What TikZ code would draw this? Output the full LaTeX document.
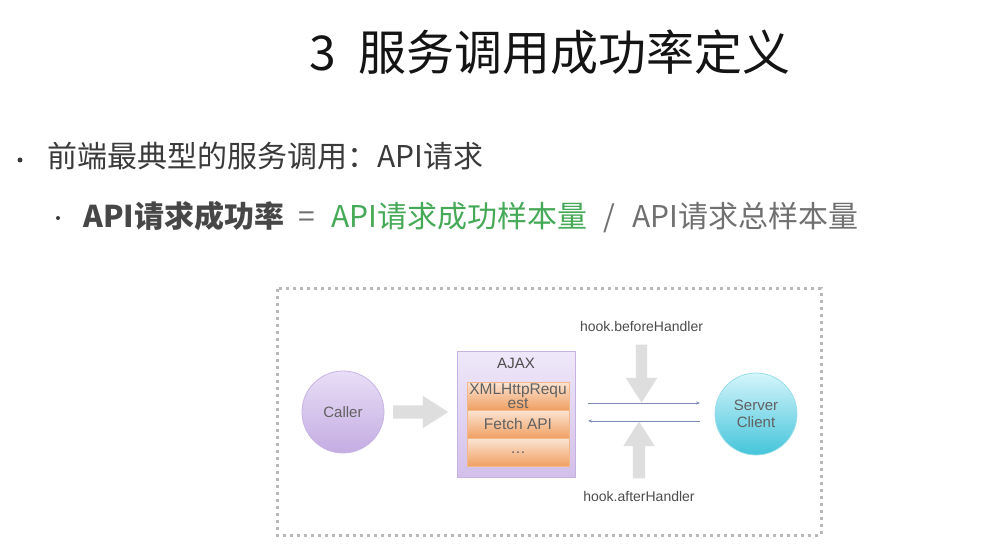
\documentclass[tikz,border=0pt]{standalone}
\usepackage{fontspec}
\setmainfont{Liberation Sans}
\newfontfamily\cjk{Noto Sans CJK SC}
\usepackage{xcolor}
\usepackage{tikz}
\usetikzlibrary{positioning,arrows.meta,shapes.arrows}
\definecolor{headcolor}{HTML}{141414}
\definecolor{bodycolor}{HTML}{3A3A3A}
\definecolor{okgreen}{HTML}{45A958}
\definecolor{softgray}{HTML}{707070}
\definecolor{linkcolor}{HTML}{7D8CB2}
\definecolor{blockgray}{HTML}{DEDEDE}
\definecolor{callertop}{HTML}{E8DEF6}
\definecolor{callerbot}{HTML}{C4ACE2}
\definecolor{callerline}{HTML}{C8B4E4}
\definecolor{boxtop}{HTML}{EFE8F9}
\definecolor{boxbot}{HTML}{D3BFEA}
\definecolor{boxline}{HTML}{C6B2E0}
\definecolor{layertop}{HTML}{FBE3D2}
\definecolor{layerbot}{HTML}{F0A062}
\definecolor{layerline}{HTML}{F2B888}
\definecolor{servertop}{HTML}{D4F5FB}
\definecolor{serverbot}{HTML}{44C4DA}
\definecolor{serverline}{HTML}{9ADDEA}
\tikzset{
  heading/.style={font=\cjk\fontsize{48}{57}\selectfont, text=headcolor, inner sep=0pt},
  itemtext/.style={font=\cjk\fontsize{30}{35}\selectfont, text=bodycolor, inner sep=0pt, anchor=base west},
  bdot/.style={circle, fill=bodycolor, inner sep=0pt, minimum size=5pt},
  outerframe/.style={draw=black!28, line width=3pt, dash pattern=on 3pt off 4pt},
  role/.style={circle, minimum size=82pt, inner sep=0pt, draw=#1, line width=0.8pt, font=\fontsize{15}{17}\selectfont, text=black!62, align=center},
  box/.style={draw=boxline, line width=0.8pt, top color=boxtop, bottom color=boxbot, minimum width=118pt, minimum height=126pt},
  layer/.style={draw=layerline, line width=0.5pt, top color=layertop, bottom color=layerbot, minimum width=102pt, minimum height=27.7pt, inner sep=1pt, font=\fontsize{15.5}{12}\selectfont, text=black!62, align=center},
  lbl/.style={font=\fontsize{14}{16}\selectfont, text=black!70, inner sep=0pt},
  blockarrow/.style={single arrow, fill=blockgray, draw=none, single arrow tip angle=65},
  link/.style={-{Stealth[length=4pt,width=3pt]}, line width=0.9pt, draw=linkcolor},
}
\begin{document}
\begin{tikzpicture}[x=1pt, y=-1pt, node distance=15pt]
\useasboundingbox[fill=white] (0,0) rectangle (1004,553);
\node[heading] (title) at (550,52) {3\hspace{22pt}服务调用成功率定义};
\node[bdot] (dot1) at (20,160) {};
\node[itemtext] (line1) at (47,168) {前端最典型的服务调用：API请求};
\node[bdot, minimum size=4pt] (dot2) at (58,218) {};
\node[itemtext, font=\cjk\bfseries\fontsize{30}{35}\selectfont, text=black!72] (rate) at (83,228) {API请求成功率};
\node[itemtext, text=softgray, right=14pt of rate.base east, anchor=base west] (eq) {=};
\node[itemtext, text=okgreen, right=16pt of eq.base east, anchor=base west] (okcount) {API请求成功样本量};
\node[itemtext, text=softgray, right=16pt of okcount.base east, anchor=base west] (slash) {/};
\node[itemtext, text=softgray, right=16pt of slash.base east, anchor=base west] (allcount) {API请求总样本量};
\draw[outerframe] (277,289) rectangle (821,535);
\node[role=callerline, top color=callertop, bottom color=callerbot] (caller) at (343,412) {Caller};
\node[blockarrow, minimum height=55pt, inner xsep=0pt, inner ysep=6.5pt, single arrow head extend=9.5pt, anchor=tail] (callarrow) at (393,412) {};
\node[box] (ajax) at (516,414) {};
\node[lbl, font=\fontsize{15}{17}\selectfont, below=7pt of ajax.north] (ajaxlbl) {AJAX};
\node[layer] (xhr) at (518,396) {XMLHttpRequ\\est};
\node[layer, below=0pt of xhr] (fetch) {Fetch API};
\node[layer, below=0pt of fetch] (more) {\dots};
\coordinate (reqL) at (588,403);
\coordinate (reqR) at (700,403);
\coordinate (respR) at (700,421);
\coordinate (respL) at (588,421);
\draw[link] (reqL) -- (reqR);
\draw[link] (respR) -- (respL);
\node[blockarrow, shape border rotate=270, minimum height=58pt, inner ysep=0pt, inner xsep=5.5pt, single arrow head extend=10pt, anchor=tip] (before) at (641.5,403) {};
\node[blockarrow, shape border rotate=90, minimum height=57pt, inner ysep=0pt, inner xsep=6pt, single arrow head extend=9.5pt, anchor=tip] (after) at (639,421) {};
\node[lbl, above=13pt of before.tail] (beforelbl) {hook.beforeHandler};
\node[lbl, below=13pt of after.tail] (afterlbl) {hook.afterHandler};
\node[role=serverline, top color=servertop, bottom color=serverbot] (server) at (756,414) {Server\\Client};
\end{tikzpicture}
\end{document}
